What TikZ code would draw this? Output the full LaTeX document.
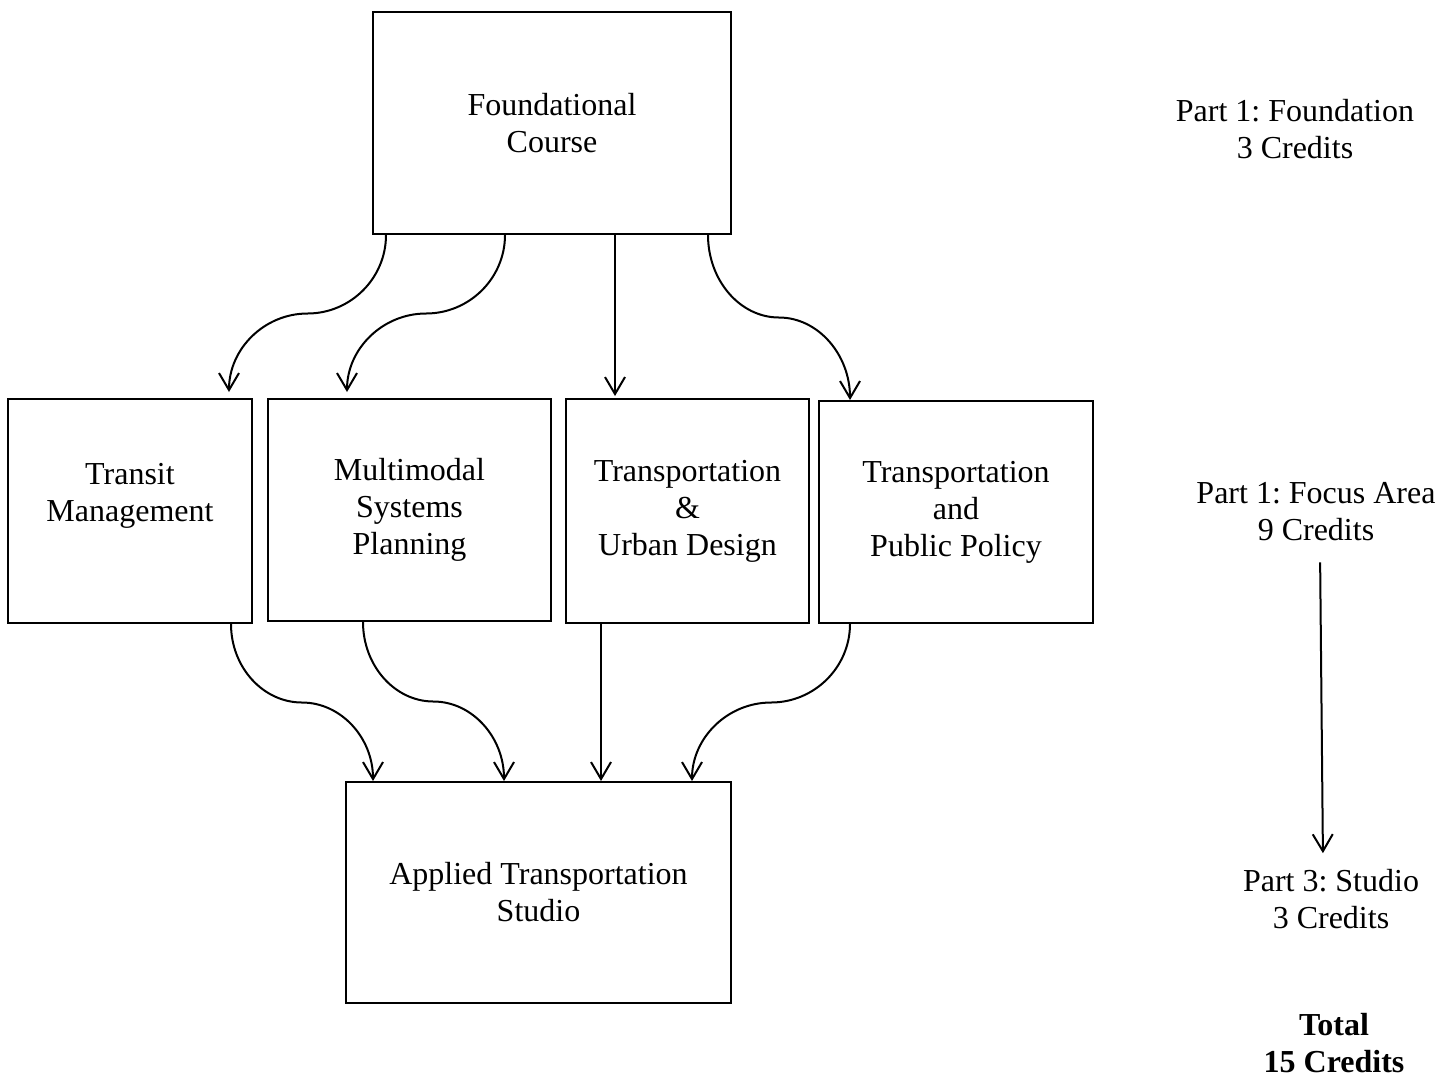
\documentclass[tikz,border=0pt]{standalone}
\usepackage{fontspec}
\setmainfont{Liberation Serif}
\frenchspacing
\usetikzlibrary{arrows.meta,calc}
\usetikzlibrary{positioning}

\tikzset{sbend/.style={to path={let \p1=(\tikztostart),\p2=(\tikztotarget),\p3=($(\p1)!0.5!(\p2)$) in
    .. controls (\x1,{\y1+0.55*(\y3-\y1)}) and ({\x3+0.55*(\x1-\x3)},\y3) .. (\p3)
    .. controls ({\x3+0.55*(\x2-\x3)},\y3) and (\x2,{\y2+0.55*(\y3-\y2)}) .. (\p2) \tikztonodes}}}

\begin{document}
\begin{tikzpicture}[x=0.5pt,y=-0.5pt,font=\fontsize{16}{18.5}\selectfont]

        \useasboundingbox (0,0) rectangle (1456,1078);

        \begin{scope}[every node/.style={rectangle,draw,line width=1pt,align=center,inner sep=0pt}]
            \node[minimum width=179pt,minimum height=111pt] (F) at (552,123) {Foundational\\Course};
            \node[minimum width=122pt,minimum height=112pt] (T) at (130,511) {Transit\\Management\\~};
            \node[minimum width=141.5pt,minimum height=111pt] (M) at (409.5,510) {Multimodal\\Systems\\Planning};
            \node[minimum width=121.5pt,minimum height=112pt] (U) at (687.5,511) {Transportation\\\&\\Urban Design};
            \node[minimum width=137pt,minimum height=111pt] (P) at (956,512) {Transportation\\and\\Public Policy};
            \node[minimum width=192.5pt,minimum height=110.5pt] (S) at (538.5,892.5) {Applied Transportation\\Studio};
        \end{scope}

        \begin{scope}[every node/.style={align=center}]
            \node (L1) at (1295,129) {Part 1: Foundation\\3 Credits};
            \node (L2) at (1316,512) {Part 1: Focus Area\\9 Credits};
            \node (L3) at (1331,899) {Part 3: Studio\\3 Credits};
            \node[font=\fontsize{16}{18.5}\selectfont\bfseries] (L4) at (1334,1043) {Total\\15 Credits};
        \end{scope}

        \begin{scope}[>={Straight Barb[length=8.5pt,width=10pt]},line width=1pt]
            \path [->] (F.south -| 386,0) edge[sbend] ([yshift=3pt]T.north -| 229,0);
            \path [->] (F.south -| 505,0) edge[sbend] ([yshift=3pt]M.north -| 347,0);
            \path [->] (F.south -| 615,0) edge ([yshift=1pt]U.north -| 615,0);
            \path [->] (F.south -| 708,0) edge[sbend] (P.north -| 850,0);
            \path [->] (T.south -| 231,0) edge[sbend] (S.north -| 373,0);
            \path [->] (M.south -| 363,0) edge[sbend] (S.north -| 504,0);
            \path [->] (U.south -| 601,0) edge (S.north -| 601,0);
            \path [->] (P.south -| 850,0) edge[sbend] (S.north -| 692,0);
            \path [->] (L2.south -| 1320,0) edge[shorten <=7pt,shorten >=4.5pt] (L3.north -| 1323,0);
        \end{scope}
    \end{tikzpicture}
\end{document}
